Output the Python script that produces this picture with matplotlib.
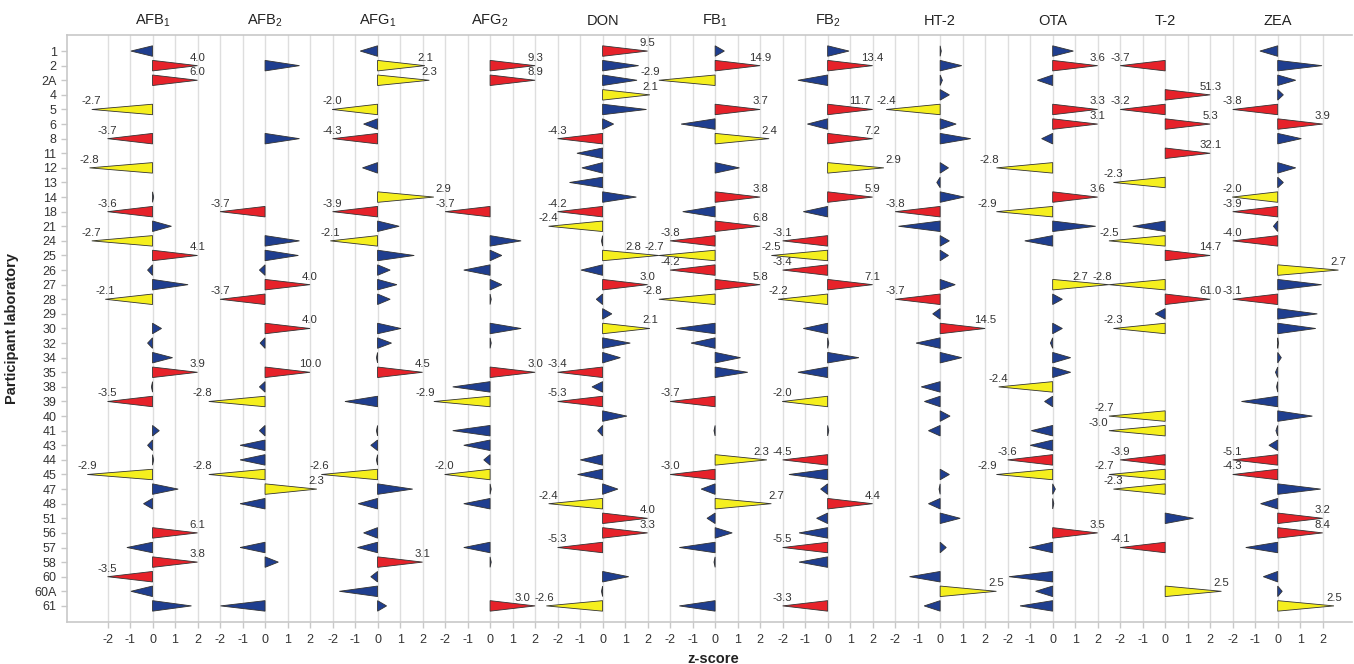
import matplotlib
matplotlib.use("Agg")
import matplotlib.pyplot as plt
from matplotlib.patches import Polygon
from matplotlib.transforms import blended_transform_factory
import numpy as np

plt.rcParams["font.family"] = ["Liberation Sans", "DejaVu Sans"]
plt.rcParams["mathtext.fontset"] = "custom"
plt.rcParams["mathtext.rm"] = "Liberation Sans"
plt.rcParams["mathtext.it"] = "Liberation Sans:italic"

# ── Data ───────────────────────────────────────────────────────────────
labs = ["1", "2", "2A", "4", "5", "6", "8", "11", "12", "13", "14", "18", "21",
        "24", "25", "26", "27", "28", "29", "30", "32", "34", "35", "38", "39",
        "40", "41", "43", "44", "45", "47", "48", "51", "56", "57", "58", "60",
        "60A", "61"]

analytes = ["AFB$_1$", "AFB$_2$", "AFG$_1$", "AFG$_2$", "DON", "FB$_1$", "FB$_2$",
            "HT-2", "OTA", "T-2", "ZEA"]

N = None
z_afb1 = [-0.96, 4.0, 6.0, N, -2.7, N, -3.7, N, -2.8, N, 0.05, -3.6, 0.84,
          -2.7, 4.1, -0.22, 1.58, -2.1, N, 0.4, -0.22, 0.89, 3.9, -0.05, -3.5,
          N, 0.3, -0.22, 0.05, -2.9, 1.14, -0.4, N, 6.1, -1.14, 3.8, -3.5,
          -0.96, 1.73]
z_afb2 = [N, 1.53, N, N, N, N, 1.53, N, N, N, N, -3.7, N,
          1.53, 1.48, -0.25, 4.0, -3.7, N, 4.0, -0.22, N, 10.0, -0.25, -2.8,
          N, -0.25, -1.11, -1.11, -2.8, 2.3, -1.11, N, N, -1.11, 0.59, N,
          N, -1.98]
z_afg1 = [-0.77, 2.1, 2.3, N, -2.02, -0.62, -4.3, N, -0.67, N, 2.9, -3.9, 0.96,
          -2.1, 1.63, 0.56, 0.86, 0.56, N, 1.04, 0.62, -0.05, 4.5, N, -1.45,
          N, -0.05, -0.3, -0.05, -2.6, 1.56, -0.86, N, -0.62, -0.89, 3.1, -0.3,
          -1.7, 0.4]
z_afg2 = [N, 9.3, 8.9, N, N, N, N, N, N, N, N, -3.7, N,
          1.38, 0.52, -1.17, 0.52, 0.05, N, 1.38, 0.05, N, 3.02, -1.66, -2.9,
          N, -1.66, -1.17, -0.28, -2.02, 0.05, -1.17, N, N, -1.17, 0.05, N,
          N, 3.02]
z_don = [9.5, 1.6, 1.53, 2.1, 1.95, 0.49, -4.3, -1.14, -0.92, -1.47, 1.5, -4.2, -2.4,
         -0.05, 2.8, -0.96, 3.02, -0.28, 0.41, 2.1, 1.23, 0.79, -3.4, -0.47, -5.3,
         1.08, -0.22, N, -0.99, -1.11, 0.68, -2.4, 4.0, 3.3, -5.3, N, 1.16,
         -0.05, -2.6]
z_fb1 = [0.41, 14.9, -2.9, N, 3.7, -1.51, 2.4, N, 1.08, N, 3.8, -1.44, 6.8,
         -3.8, -2.7, -4.2, 5.8, -2.8, N, -1.73, -1.07, 1.13, 1.45, N, -3.7,
         N, -0.05, N, 2.3, -3.02, -0.62, 2.7, -0.36, 0.76, -1.59, -0.05, N,
         N, -1.59]
z_fb2 = [0.95, 13.4, -1.32, N, 11.7, -0.9, 7.2, N, 2.9, N, 5.9, -1.08, N,
         -3.1, -2.5, -3.4, 7.1, -2.2, N, -1.08, 0.05, 1.39, -1.32, N, -2.02,
         N, 0.05, N, -4.5, -1.72, -0.31, 4.4, -0.49, -1.27, -5.5, -1.27, N,
         N, -3.3]
z_ht2 = [0.05, 0.96, 0.1, 0.41, -2.4, 0.71, 1.36, N, 0.37, -0.15, 1.07, -3.8, -1.85,
         0.41, 0.37, N, 0.67, -3.7, -0.33, 14.5, -1.07, 0.96, N, -0.84, -0.7,
         0.44, -0.52, N, N, 0.41, -0.05, -0.52, 0.89, N, 0.27, N, -1.36,
         2.5, -0.71]
z_ota = [0.92, 3.6, -0.68, N, 3.3, 3.1, -0.49, N, -2.8, N, 3.6, -2.9, 1.91,
         -1.24, N, N, 2.7, 0.43, N, 0.43, -0.1, 0.8, 0.8, -2.4, -0.36,
         N, -0.95, -1.0, -3.6, -2.9, 0.12, 0.05, N, 3.5, -1.05, N, -1.94,
         -0.76, -1.45]
z_t2 = [N, -3.7, N, 51.3, -3.2, 5.3, N, 32.1, N, -2.3, N, N, -1.44,
        -2.5, 14.7, N, -2.8, 61.0, -0.44, -2.3, N, N, N, N, N,
        -2.7, -2.98, N, -3.9, -2.7, -2.3, N, 1.26, N, -4.1, N, N,
        2.5, N]
z_zea = [-0.79, 1.97, 0.8, 0.25, -3.8, 3.9, 1.05, N, 0.8, 0.25, -2.02, -3.9, -0.19,
         -4.0, N, 2.7, 1.95, -3.1, 1.76, 1.69, 0.03, 0.16, -0.1, -0.05, -1.61,
         1.54, -0.08, -0.39, -5.1, -4.3, 1.91, -0.76, 3.2, 8.4, -1.42, N, -0.64,
         0.2, 2.5]

series = [z_afb1, z_afb2, z_afg1, z_afg2, z_don, z_fb1, z_fb2,
          z_ht2, z_ota, z_t2, z_zea]

# ── Style ──────────────────────────────────────────────────────────────
STEP = 5          # each panel spans -2.5 .. 2.5 on a shared axis
HALF_H = 0.36
BLUE, YELLOW, RED = "#1f3e8f", "#f5ef1e", "#e6222a"
TEXT = "#333333"
SPINE = "#c8c8c8"

fig = plt.figure(figsize=(13.54, 6.64), dpi=100)
ax = fig.add_axes([0.0495, 0.0633, 0.949, 0.884])

n_panels = len(series)
labels = {}
for p, vals in enumerate(series):
    x0 = p * STEP
    for i, z in enumerate(vals):
        if z is None:
            continue
        az = abs(z)
        if az >= 3:
            colour, tip = RED, np.sign(z) * 2
        elif az >= 2:
            colour, tip = YELLOW, z
        else:
            colour, tip = BLUE, z
        # don't let a triangle run into the neighbouring panel
        if (z > 0 and p < n_panels - 1) or (z < 0 and p > 0):
            tip = np.clip(tip, -2.5, 2.5)
        tri = Polygon([(x0, i - HALF_H), (x0, i + HALF_H), (x0 + tip, i)],
                      closed=True, facecolor=colour, edgecolor="#333333",
                      linewidth=0.6, zorder=3)
        ax.add_patch(tri)
        if az >= 2:
            lx = x0 + (np.sign(z) * 2 if az >= 3 else z)
            labels[(p, i)] = [lx, f"{z:.1f}", z]

# push a label left when the neighbour's label sits on top of it
for (p, i), item in labels.items():
    nxt = labels.get((p + 1, i))
    if nxt and item[2] > 0 and nxt[2] < 0 and nxt[0] - item[0] < 0.7:
        item[0] = nxt[0] - (1.15 if abs(item[2]) >= 10 else 0.95)

for (p, i), (lx, txt, _) in labels.items():
    ax.text(lx, i - 0.55, txt, ha="center", va="center", fontsize=8.2,
            color=TEXT, zorder=4)

# ── Axes ───────────────────────────────────────────────────────────────
ticks = list(range(-2, STEP * (n_panels - 1) + 3))
ax.set_xticks(ticks)
ax.set_xticklabels([str((k + 2) % STEP - 2) for k in ticks])
ax.set_xlim(-3.8, STEP * (n_panels - 1) + 3.3)
ax.set_yticks(range(len(labs)))
ax.set_yticklabels(labs)
ax.set_ylim(len(labs) - 1 + 1.1, -1.1)

ax.grid(axis="x", color="#dedede", linewidth=1.0)
ax.set_axisbelow(True)
for side in ["left", "bottom", "top"]:
    ax.spines[side].set_color(SPINE)
    ax.spines[side].set_linewidth(1.2)
ax.spines["right"].set_visible(False)
ax.tick_params(axis="both", colors=SPINE, labelcolor=TEXT, labelsize=9,
               length=4, width=1)
ax.tick_params(axis="x", pad=5)

trans = blended_transform_factory(ax.transData, ax.transAxes)
for p, name in enumerate(analytes):
    ax.text(p * STEP, 1.024, name, transform=trans, ha="center", va="center",
            fontsize=10.5, color="#222222")

ax.set_xlabel("z-score", fontsize=10.5, fontweight="bold", color="#222222")
ax.xaxis.set_label_coords(0.503, -0.051)
ax.set_ylabel("Participant laboratory", fontsize=10.5, fontweight="bold",
              color="#222222")
ax.yaxis.set_label_coords(-0.037, 0.5)

fig.savefig("out.png", dpi=100)
